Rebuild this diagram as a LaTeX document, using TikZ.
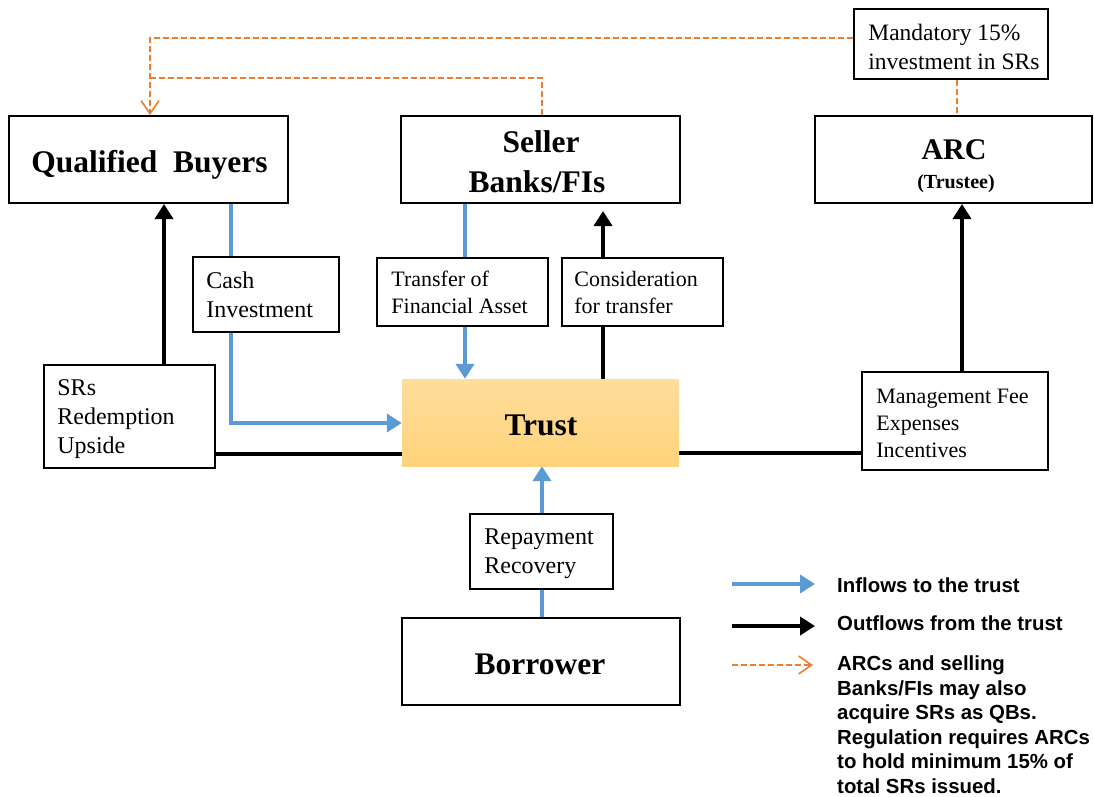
\documentclass[tikz,border=0pt]{standalone}
\usepackage{fontspec}
\setmainfont{Liberation Serif}
\newfontfamily\legendfont{Liberation Sans}
\usetikzlibrary{arrows.meta,backgrounds}
\definecolor{inblue}{RGB}{91,155,213}
\definecolor{dashorange}{RGB}{237,125,49}
\definecolor{trusttop}{RGB}{255,221,156}
\definecolor{trustbot}{RGB}{255,211,122}
\tikzset{
  mainbox/.style={draw, line width=2pt, fill=white, inner sep=0pt, minimum height=87pt},
  maintext/.style={anchor=base, inner sep=0pt, font=\bfseries\fontsize{31.5}{39}\selectfont},
  lblbox/.style={draw, line width=1.6pt, fill=white, inner sep=0pt},
  lbltext/.style={anchor=west, align=left, inner sep=0pt, font=\fontsize{24}{29}\selectfont},
  lbltextsm/.style={lbltext, font=\fontsize{22}{27}\selectfont},
  inflow/.style={draw=inblue, line width=4.5pt, -{Triangle[width=18pt,length=15pt]}},
  outflow/.style={draw=black, line width=4.5pt, -{Triangle[width=18pt,length=15pt]}},
  outline/.style={draw=black, line width=4.5pt},
  regline/.style={draw=dashorange, line width=1.6pt, dash pattern=on 6pt off 3pt},
  regtip/.style={-{Straight Barb[length=13pt,width=18pt,line width=1.6pt]}},
  legtext/.style={anchor=west, align=left, inner sep=0pt,
    font=\legendfont\bfseries\fontsize{20.4}{24.5}\selectfont}
}
\begin{document}
\begin{tikzpicture}[x=1pt,y=-1pt]
\useasboundingbox (0,0) rectangle (1094,796);
% main boxes
\node[mainbox, minimum width=279pt] (QB) at (148.5,159.5) {};
\node[mainbox, minimum width=279pt] (Seller) at (540.5,159.5) {};
\node[mainbox, minimum width=277pt] (ARC) at (953.5,159.5) {};
\node[draw=none, top color=trusttop, bottom color=trustbot, minimum width=277pt,
  minimum height=87pt, inner sep=0pt] (Trust) at (540.5,422.5) {};
\node[mainbox, minimum width=278pt] (Borrower) at (541,661.5) {};
\node[maintext] (QBt) at (149.5,172.5) {Qualified\ \ Buyers};
\node[maintext] (Sellert1) at (541,152.5) {Seller};
\node[maintext] (Sellert2) at (537,192) {Banks/FIs};
\node[maintext, font=\bfseries\fontsize{30}{36}\selectfont] (ARCt1) at (954,159) {ARC};
\node[maintext, font=\bfseries\fontsize{20}{24}\selectfont] (ARCt2) at (956,188) {(Trustee)};
\node[maintext] (Trustt) at (541,435) {Trust};
\node[maintext] (Borrowert) at (540,674) {Borrower};
% label boxes
\node[lblbox, minimum width=194pt, minimum height=70pt] (Mand) at (951,44) {};
\node[lblbox, minimum width=146pt, minimum height=75pt] (Cash) at (266,294.5) {};
\node[lblbox, minimum width=171pt, minimum height=103pt] (SRs) at (129.5,416.5) {};
\node[lblbox, minimum width=171pt, minimum height=68pt] (Transfer) at (462.5,292) {};
\node[lblbox, minimum width=161pt, minimum height=68pt] (Consid) at (642.5,292) {};
\node[lblbox, minimum width=186pt, minimum height=98pt] (Mgmt) at (955,421) {};
\node[lblbox, minimum width=143pt, minimum height=75pt] (Repay) at (541.5,551.5) {};
\node[lbltext, font=\fontsize{23.5}{29}\selectfont] (Mandt) at ([xshift=15pt,yshift=-3pt]Mand.west) {Mandatory 15\%\\investment in SRs};
\node[lbltext] (Casht) at ([xshift=14pt]Cash.west) {Cash\\Investment};
\node[lbltext] (SRst) at ([xshift=14pt,yshift=-3pt]SRs.west) {SRs\\Redemption\\Upside};
\node[lbltextsm] (Transfert) at ([xshift=15pt]Transfer.west) {Transfer of\\Financial Asset};
\node[lbltextsm] (Considt) at ([xshift=13pt]Consid.west) {Consideration\\for transfer};
\node[lbltextsm] (Mgmtt) at ([xshift=15pt,yshift=-2pt]Mgmt.west) {Management Fee\\Expenses\\Incentives};
\node[lbltext] (Repayt) at ([xshift=15pt,yshift=-2pt]Repay.west) {Repayment\\Recovery};
% connectors
\begin{scope}[on background layer]
  \coordinate (qbx) at ([xshift=82.5pt]QB.south);
  \draw[inflow] (qbx) |- ([yshift=-0.5pt]Trust.west);
  \coordinate (srx) at ([xshift=34.5pt]SRs.north);
  \draw[outflow] (srx) -- (srx |- QB.south);
  \draw[outline] ([yshift=-31.5pt]Trust.west) -- ([yshift=-31.5pt]Trust.west -| SRs.east);
  \coordinate (slx) at ([xshift=-75.5pt]Seller.south);
  \draw[inflow] (slx) -- (slx |- Trust.north);
  \coordinate (trx) at ([xshift=62.5pt]Trust.north);
  \draw[outflow, shorten >=7pt] (trx) -- (trx |- Seller.south);
  \coordinate (box) at ([xshift=1pt]Borrower.north);
  \draw[inflow] (box) -- (box |- Trust.south);
  \draw[outline] ([yshift=-30.5pt]Trust.east) -- ([yshift=-30.5pt]Trust.east -| Mgmt.west);
  \coordinate (mgx) at ([xshift=7pt]Mgmt.north);
  \draw[outflow] (mgx) -- (mgx |- ARC.south);
  \coordinate (qbn) at ([xshift=1.5pt]QB.north);
  \draw[regline, regtip] ([yshift=6pt]Mand.west) -| (qbn);
  \draw[regline] ([xshift=1.5pt]Seller.north) |- ([yshift=37pt]qbn);
  \coordinate (mdx) at ([xshift=6pt]Mand.south);
  \draw[regline] (mdx) -- (mdx |- ARC.north);
\end{scope}
% legend
\coordinate (la1) at (732,584); \coordinate (lb1) at (815,584);
\coordinate (la2) at (732,626); \coordinate (lb2) at (815,626);
\coordinate (la3) at (732,665); \coordinate (lb3) at (813,665);
\draw[inflow] (la1) -- (lb1);
\draw[outflow] (la2) -- (lb2);
\draw[regline, regtip] (la3) -- (lb3);
\node[legtext] (lt1) at (837,585) {Inflows to the trust};
\node[legtext] (lt2) at (837,623) {Outflows from the trust};
\node[legtext, anchor=north west] (lt3) at (837,656)
  {ARCs and selling\\Banks/FIs may also\\acquire SRs as QBs.\\Regulation requires ARCs\\to hold minimum 15\% of\\total SRs issued.};
\end{tikzpicture}
\end{document}
